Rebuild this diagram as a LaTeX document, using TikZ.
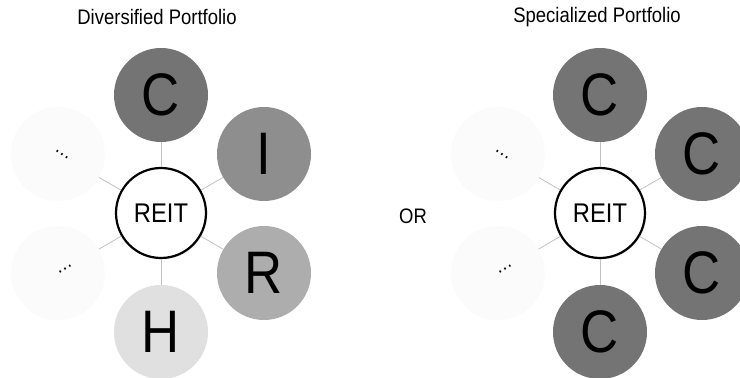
\documentclass[tikz,border=0pt]{standalone}
\usepackage{fontspec}
\setmainfont{Liberation Sans}[FakeStretch=0.88]
\usetikzlibrary{shadows}
\definecolor{gDark}{HTML}{747474}
\definecolor{gMid}{HTML}{8E8E8E}
\definecolor{gLight}{HTML}{ADADAD}
\definecolor{gPale}{HTML}{E0E0E0}
\definecolor{gGhost}{HTML}{FBFBFB}
\definecolor{gLine}{HTML}{C2C2C2}
\tikzset{
  sector/.style={circle, minimum size=94pt, inner sep=0pt, font=\fontsize{60}{60}\selectfont},
  hub/.style={circle, draw=black, line width=2.2pt, fill=white, minimum size=90pt, inner sep=0pt,
    font=\fontsize{27}{27}\selectfont,
    drop shadow={opacity=0.25, shadow xshift=1.2pt, shadow yshift=-1.2pt}},
  spoke/.style={draw=gLine, line width=0.8pt},
  title/.style={font=\fontsize{21}{21}\selectfont},
  more/.style={font=\fontsize{20}{20}\selectfont, inner sep=0pt},
}
\begin{document}
\begin{tikzpicture}[x=1pt, y=1pt]
\useasboundingbox (0,0) rectangle (740,378);
\clip (0,0) rectangle (740,378);
\fill[white] (0,0) rectangle (740,378);

% Diversified portfolio
\node[title] (t1) at (157,361) {Diversified Portfolio};
\node[sector, fill=gDark]  (dc) at (161,283) {C};
\node[sector, fill=gMid]   (di) at (264,224) {I};
\node[sector, fill=gLight] (dr) at (264,105) {R};
\node[sector, fill=gPale]  (dh) at (161,46)  {H};
\node[sector, fill=gGhost] (du) at (58,224) {};
\node[sector, fill=gGhost] (dl) at (58,105) {};
\node[hub] (dreit) at (161,165) {REIT};
\foreach \n in {dc,di,dr,dh,du,dl} \draw[spoke] (dreit) -- (\n);
\node[more, rotate=-34] (dud) at (62,223) {…};
\node[more, rotate=31]  (dld) at (65,108.5) {…};

\node[title] (or) at (413,162) {OR};

% Specialized portfolio
\node[title] (t2) at (597,361) {Specialized Portfolio};
\node[sector, fill=gDark]  (sc1) at (600,283) {C};
\node[sector, fill=gDark]  (sc2) at (702,224) {C};
\node[sector, fill=gDark]  (sc3) at (702,105) {C};
\node[sector, fill=gDark]  (sc4) at (600,46)  {C};
\node[sector, fill=gGhost] (su) at (498,224) {};
\node[sector, fill=gGhost] (sl) at (498,105) {};
\node[hub] (sreit) at (600,165) {REIT};
\foreach \n in {sc1,sc2,sc3,sc4,su,sl} \draw[spoke] (sreit) -- (\n);
\node[more, rotate=-34] (sud) at (502,223) {…};
\node[more, rotate=31]  (sld) at (505,108.5) {…};
\end{tikzpicture}
\end{document}
